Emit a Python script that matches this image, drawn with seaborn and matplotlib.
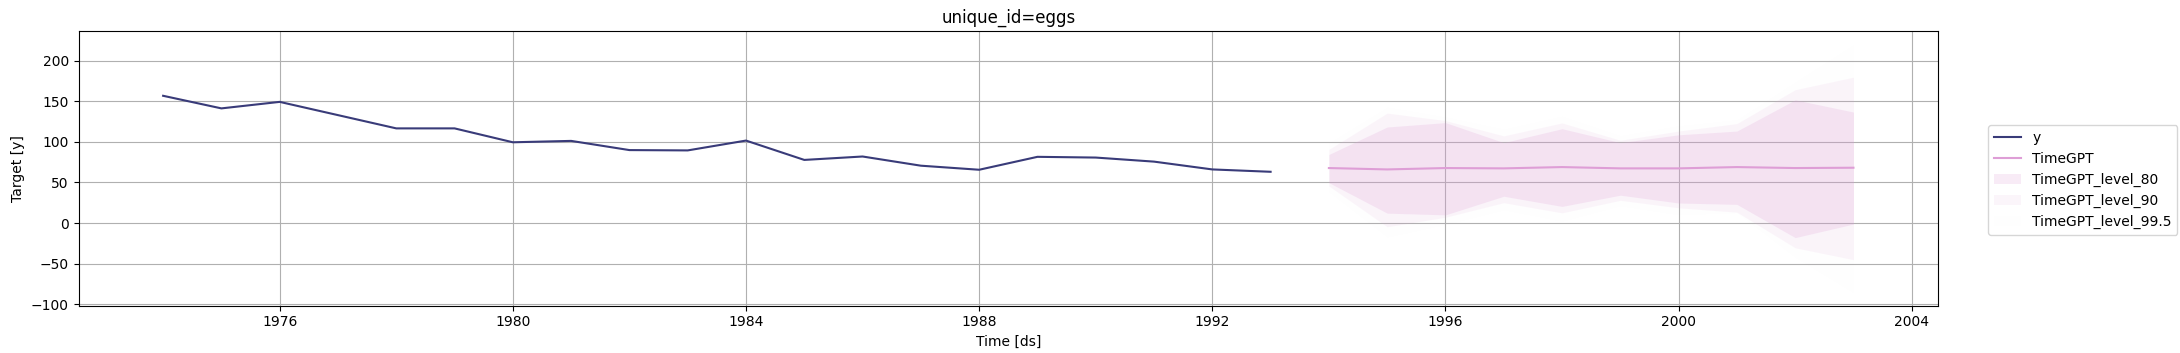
import numpy as np
import pandas as pd
import matplotlib
matplotlib.use("Agg")
import matplotlib.pyplot as plt
import seaborn as sns

# ---- data ----
hist_years = list(range(1974, 1994))
hist_y = [156.6, 141.1, 149.1, 132.8, 116.5, 116.5, 99.4, 101.1, 89.8, 89.4,
          101.5, 77.7, 81.9, 70.6, 65.6, 81.5, 80.6, 75.6, 66.0, 63.1]

fc_years = list(range(1994, 2004))
timegpt = [67.7, 66.0, 67.7, 67.3, 68.9, 67.3, 67.3, 68.9, 67.7, 68.1]
lo_80 = [49.7, 12.2, 10.1, 33.0, 20.5, 34.3, 24.7, 23.0, -17.9, -1.2]
hi_80 = [84.4, 118.2, 123.6, 99.0, 116.1, 99.0, 108.6, 113.2, 151.6, 136.6]
lo_90 = [45.6, -4.5, 7.2, 25.1, 12.6, 28.0, 18.8, 13.4, -30.4, -45.0]
hi_90 = [90.6, 135.3, 126.1, 107.3, 123.2, 101.9, 113.2, 122.4, 164.1, 179.5]
lo_995 = [38.0, -17.5, -2.0, 16.0, 2.0, 21.0, 10.0, 12.5, -42.5, -86.0]
hi_995 = [99.0, 143.0, 131.0, 116.0, 132.0, 108.0, 120.0, 127.5, 174.0, 220.0]

levels = ["80", "90", "99.5"]
x_ticks = [1976, 1980, 1984, 1988, 1992, 1996, 2000, 2004]

hist_df = pd.DataFrame({"ds": hist_years, "y": hist_y})
fc_df = pd.DataFrame({"ds": fc_years, "TimeGPT": timegpt,
                      "lo_80": lo_80, "hi_80": hi_80,
                      "lo_90": lo_90, "hi_90": hi_90,
                      "lo_99.5": lo_995, "hi_99.5": hi_995})

cmap = plt.get_cmap("tab20b")
c_y = cmap(0.0)
c_f = cmap(1.0)

fig = plt.figure(figsize=(21.8, 3.53), dpi=100)
ax = fig.add_axes([78.6 / 2180, 1 - 305.5 / 353, (1938 - 78.6) / 2180, (305.5 - 31) / 353])

sns.lineplot(data=hist_df, x="ds", y="y", ax=ax, color=c_y, label="y", linewidth=1.5)
sns.lineplot(data=fc_df, x="ds", y="TimeGPT", ax=ax, color=c_f, label="TimeGPT", linewidth=1.5)
for lv in levels:
    ax.fill_between(fc_df["ds"], fc_df[f"lo_{lv}"], fc_df[f"hi_{lv}"],
                    color=c_f, alpha=1 - float(lv) / 100, linewidth=0,
                    label=f"TimeGPT_level_{lv}")

ax.set_xlim(1972.55, 2004.45)
ax.set_ylim(-101.4, 236.3)
ax.set_xticks(x_ticks)
ax.set_xticklabels([str(t) for t in x_ticks])
ax.grid(True)
ax.set_axisbelow(True)
ax.set_title("unique_id=eggs")
ax.set_xlabel("Time [ds]")
ax.set_ylabel("Target [y]")

handles, labels = ax.get_legend_handles_labels()
ax.legend_.remove()
fig.legend(handles, labels, loc="center left", bbox_to_anchor=(1981 / 2180, 0.49))

fig.savefig("out.png", dpi=100)
